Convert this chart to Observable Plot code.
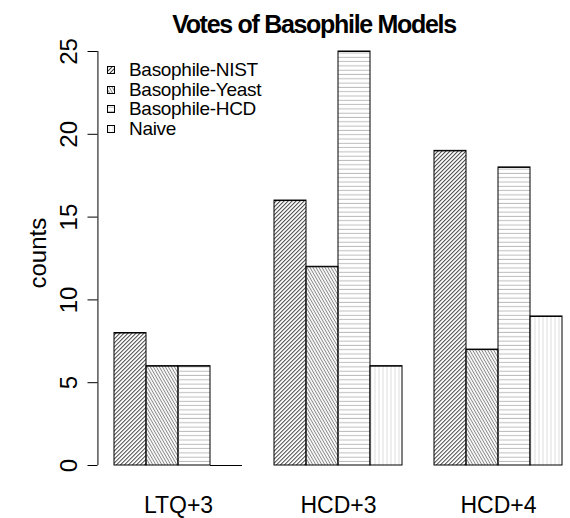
<!DOCTYPE html>
<html>
<head>
<meta charset="utf-8">
<script src="https://cdn.jsdelivr.net/npm/d3@7"></script>
<script src="https://cdn.jsdelivr.net/npm/@observablehq/plot@0.6"></script>
<style>
  html, body { margin: 0; padding: 0; background: white; }
  #wrap { position: relative; width: 570px; height: 518px; overflow: hidden; font-family: "Liberation Sans", Arial, sans-serif; }
  #title { position: absolute; left: 0; top: 6px; width: 628px; text-align: center; font-weight: bold; font-size: 25px; letter-spacing: -1.3px; line-height: 36px; }
  #chart { position: absolute; left: 0; top: 38px; }
  #legend { position: absolute; left: 107px; top: 60px; font-size: 19px; }
  .row { position: relative; height: 19.5px; line-height: 19.5px; white-space: nowrap; }
  .row svg { position: absolute; left: 0; top: 6px; }
  .row span { position: absolute; left: 22px; top: 0; letter-spacing: -0.3px; }
</style>
</head>
<body>
<svg width="0" height="0" style="position:absolute">
  <defs>
    <pattern id="pNIST" width="2.83" height="2.83" patternUnits="userSpaceOnUse" patternTransform="rotate(45)">
      <line x1="1.4" y1="-1" x2="1.4" y2="4" stroke="#444" stroke-width="1"/>
    </pattern>
    <pattern id="pYeast" width="2.6" height="2.6" patternUnits="userSpaceOnUse" patternTransform="rotate(-30)">
      <line x1="1.3" y1="-1" x2="1.3" y2="4" stroke="#888" stroke-width="1"/>
    </pattern>
    <pattern id="pHCD" width="4.3" height="4.3" patternUnits="userSpaceOnUse" patternTransform="rotate(90)">
      <line x1="2.1" y1="-1" x2="2.1" y2="6" stroke="#bbb" stroke-width="1"/>
    </pattern>
    <pattern id="pNaive" width="4" height="4" patternUnits="userSpaceOnUse">
      <line x1="2" y1="-1" x2="2" y2="5" stroke="#ddd" stroke-width="1"/>
    </pattern>
  </defs>
</svg>
<div id="wrap">
  <div id="title">Votes of Basophile Models</div>
  <div id="chart"></div>
  <div id="legend"></div>
</div>
<script>
// ---- data ----
const groups = ["LTQ+3", "HCD+3", "HCD+4"];
const seriesNames = ["Basophile-NIST", "Basophile-Yeast", "Basophile-HCD", "Naive"];
const nistValues  = [8, 16, 19];
const yeastValues = [6, 12, 7];
const hcdValues   = [6, 25, 18];
const naiveValues = [0, 6, 9];
const yTicks = [0, 5, 10, 15, 20, 25];
const yLabel = "counts";
const patternIds = ["pNIST", "pYeast", "pHCD", "pNaive"];

const seriesValues = [nistValues, yeastValues, hcdValues, naiveValues];
const data = [];
seriesNames.forEach((s, si) => {
  groups.forEach((g, gi) => data.push({group: g, series: s, value: seriesValues[si][gi]}));
});

// ---- layout ----
const W = 570, H = 480;
const mLeft = 113, mRight = 7, mTop = 13, mBottom = 53;
const axisShift = -16.5;                    // y axis sits left of the first bar group
const groupW = (W - mLeft - mRight) / (3 - 0.2);
const barW = groupW * 0.8 / 4;
const font = '"Liberation Sans", Arial, sans-serif';

const barMarks = seriesNames.map((s, si) =>
  Plot.barY(data.filter(d => d.series === s), {
    fx: "group", x: "series", y: "value",
    fill: `url(#${patternIds[si]})`, stroke: "black", strokeWidth: 1
  })
);

const chart = Plot.plot({
  width: W, height: H,
  marginLeft: mLeft, marginRight: mRight, marginTop: mTop, marginBottom: mBottom,
  style: {fontFamily: font, background: "white", color: "black", overflow: "visible"},
  fx: {domain: groups, paddingInner: 0.2, paddingOuter: 0},
  x: {domain: seriesNames, padding: 0, axis: null},
  y: {domain: [0, 25]},
  marks: [
    ...barMarks,
    Plot.tickY(data, {fx: "group", x: "series", y: "value", stroke: "black", strokeWidth: 1}),
    Plot.ruleX([yTicks[0]], {fx: () => groups[0], x: () => seriesNames[0], y1: yTicks[0], y2: yTicks[yTicks.length - 1], dx: axisShift - barW / 2, stroke: "black", strokeWidth: 1}),
    Plot.axisY({ticks: yTicks, tickSize: 10, tickPadding: 11, tickRotate: -90, fontSize: 24, dx: axisShift, label: null, tickFormat: d => String(d), stroke: "black", strokeWidth: 1, strokeOpacity: 1}),
    Plot.axisFx({anchor: "bottom", tickSize: 0, tickPadding: 31, fontSize: 23, label: null}),
    Plot.text([yLabel], {fx: () => groups[0], text: d => d, frameAnchor: "left", rotate: -90, dx: -76, dy: 30, fontSize: 24})
  ]
});
document.getElementById("chart").appendChild(chart);

// ---- legend ----
const legend = document.getElementById("legend");
seriesNames.forEach((s, si) => {
  const row = document.createElement("div");
  row.className = "row";
  row.innerHTML = `<svg width="9" height="9"><rect x="0.5" y="0.5" width="7" height="7" fill="url(#${patternIds[si]})" stroke="black" stroke-width="1"/></svg><span>${s}</span>`;
  legend.appendChild(row);
});
</script>
</body>
</html>
